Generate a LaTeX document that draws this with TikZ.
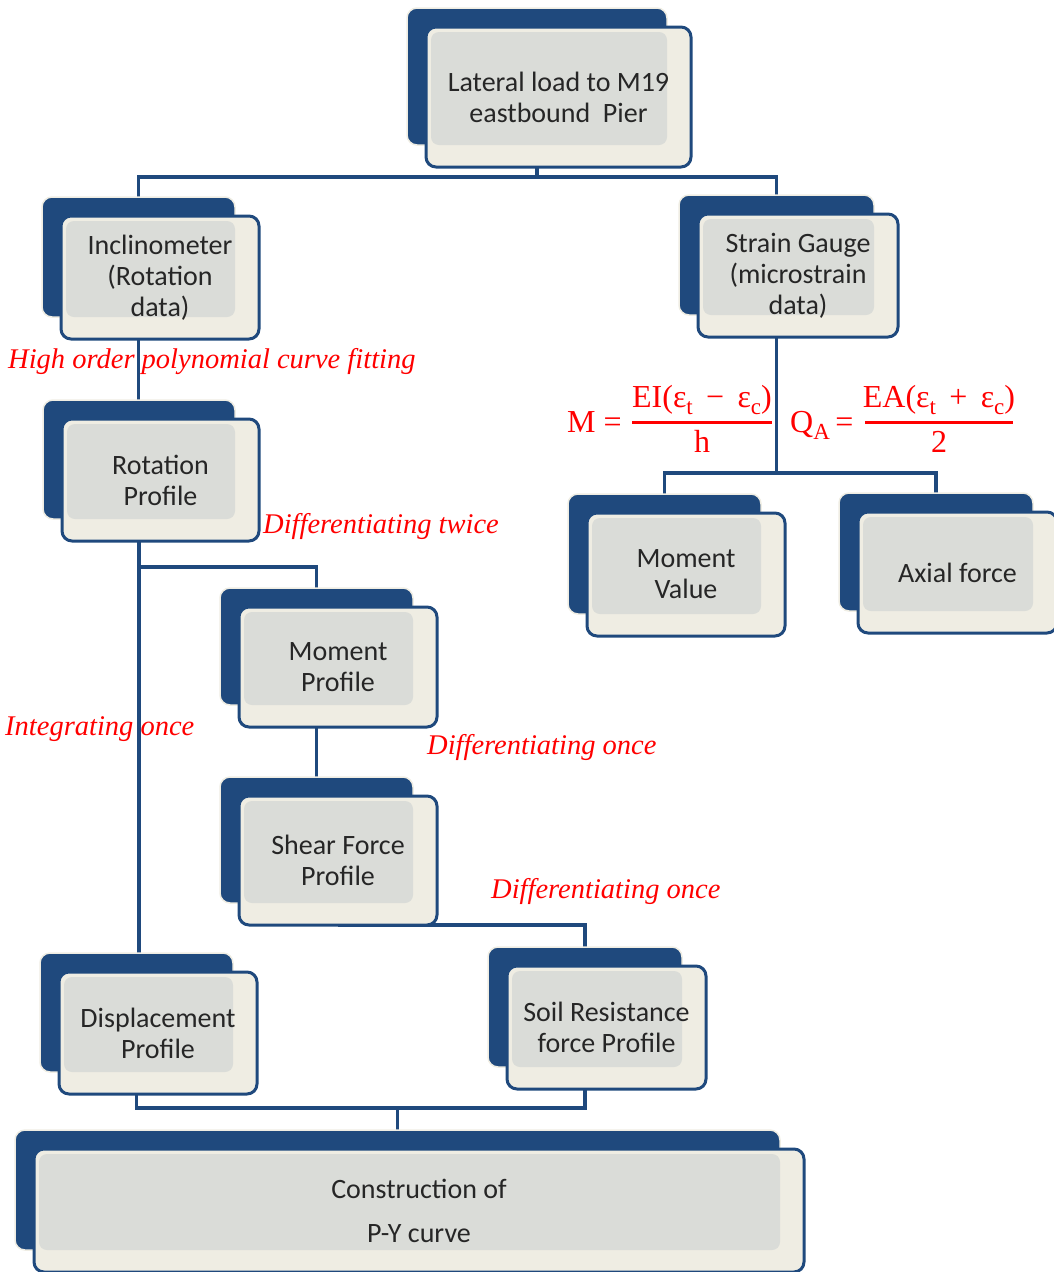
\documentclass[tikz,border=0pt]{standalone}
\usepackage{fontspec}
\setmainfont{Liberation Serif}
\newfontfamily\boxfont{Carlito}
\usetikzlibrary{calc}
\definecolor{dblue}{HTML}{1F497D}
\definecolor{cream}{HTML}{EFEDE3}
\definecolor{lgray}{HTML}{DADCD8}
\definecolor{txt}{HTML}{262626}
\pgfdeclarelayer{bg}
\pgfsetlayers{bg,main}
\tikzset{
  backbox/.style={fill=dblue, draw=cream, line width=1.5pt, rounded corners=10pt, inner sep=0pt, outer sep=0pt},
  frontbox/.style={fill=cream, draw=dblue, line width=3pt, rounded corners=10pt, inner sep=0pt, outer sep=0pt},
  graybox/.style={fill=lgray, rounded corners=8pt, inner sep=0pt, outer sep=0pt},
  boxtext/.style={font=\boxfont\fontsize{28}{31}\selectfont, text=txt, align=center, inner sep=0pt},
  conn/.style={draw=dblue, line width=3.5pt},
  redlabel/.style={font=\itshape\fontsize{28.5}{32}\selectfont, text=red, inner sep=0pt, anchor=base west},
  fml/.style={font=\fontsize{32}{36}\selectfont, text=red, inner sep=0pt},
  fracbar/.style={draw=red, line width=3pt},
}
\newcommand\lowsub[1]{\raisebox{-0.22em}{\fontsize{23}{23}\selectfont #1}}
\newcommand\flowbox[6]{%
  \pgfmathsetmacro\bw{#4-#2}%
  \pgfmathsetmacro\bh{#5-#3}%
  \pgfmathsetmacro\fw{#4-#2+5}%
  \pgfmathsetmacro\fh{#5-#3+3}%
  \pgfmathsetmacro\gw{#4-#2-24}%
  \pgfmathsetmacro\gh{#5-#3-24}%
  \node[backbox, minimum width=\bw pt, minimum height=\bh pt, anchor=north west] (#1-b) at (#2,#3) {};
  \node[frontbox, minimum width=\fw pt, minimum height=\fh pt, anchor=north west] (#1) at (#2+19,#3+19) {};
  \node[graybox, minimum width=\gw pt, minimum height=\gh pt, anchor=north west] (#1-g) at (#2+24,#3+24) {};
  \node[boxtext] (#1-t) at (#1.center) {#6};
}
\begin{document}
\begin{tikzpicture}[x=1pt, y=-1pt]
\useasboundingbox (0,0) rectangle (1054,1272);

\flowbox{top}{407}{8}{667}{145}{Lateral load to M19\\ eastbound\ \ Pier}
\flowbox{incl}{42}{197}{235}{317}{Inclinometer\\(Rotation\\data)}
\flowbox{strain}{679}{195}{874}{315}{Strain Gauge\\(microstrain\\data)}
\flowbox{rot}{43}{400}{235}{519}{Rotation\\Profile}
\flowbox{mval}{568}{494}{761}{614}{Moment\\Value}
\flowbox{axial}{839}{493}{1033}{611}{Axial force}
\flowbox{mprof}{220}{588}{413}{705}{Moment\\Profile}
\flowbox{shear}{220}{777}{413}{903}{Shear Force\\Profile}
\flowbox{disp}{40}{953}{233}{1072}{Displacement\\Profile}
\flowbox{soil}{488}{947}{682}{1067}{Soil Resistance\\force Profile}
\flowbox{constr}{15}{1130}{780}{1250}{Construction of\\[13pt]P-Y curve}

\coordinate (ya) at (0,177);
\coordinate (yb) at (0,473);
\coordinate (yc) at (0,567);
\coordinate (yd) at (0,1108);

\begin{pgfonlayer}{bg}
\draw[conn] (top-b.south) -- (top-b.south |- ya) -| (incl-b.north);
\draw[conn] (top-b.south |- ya) -| (strain-b.north);
\draw[conn] (incl-b.south) -- (incl-b.south |- rot-b.north);
\draw[conn] (strain-b.south) -- (strain-b.south |- yb) -| (mval-b.north);
\draw[conn] (strain-b.south |- yb) -| (axial-b.north);
\draw[conn] (rot-b.south) -- (rot-b.south |- disp-b.north);
\draw[conn] (rot-b.south |- yc) -| (mprof-b.north);
\draw[conn] (mprof-b.south) -- (mprof-b.south |- shear-b.north);
\draw[conn] (shear.south) -| (soil-b.north);
\draw[conn] (disp-b.south) -- (disp-b.south |- yd) -| (soil-b.south);
\draw[conn] (constr-b.north |- yd) -- (constr-b.north);
\end{pgfonlayer}

\node[redlabel] (lhof) at (8,368) {High order polynomial curve fitting};
\node[redlabel] (ldtw) at (263,533) {Differentiating twice};
\node[redlabel] (lio) at (5,735) {Integrating once};
\node[redlabel] (ldo1) at (427,754) {Differentiating once};
\node[redlabel] (ldo2) at (491,898) {Differentiating once};

% formula M
\node[fml, anchor=base west] (fM) at (567,432) {M =};
\node[fml, anchor=base] (fMn) at (702,407) {EI(ε\lowsub{t}\, − \,ε\lowsub{c})};
\node[fml, anchor=base] (fMd) at (702,452) {h};
\draw[fracbar] (632,422) -- (772,422);
% formula QA
\node[fml, anchor=base west] (fQ) at (790,432) {Q\lowsub{A}\,=};
\node[fml, anchor=base] (fQn) at (939,407) {EA(ε\lowsub{t}\, + \,ε\lowsub{c})};
\node[fml, anchor=base] (fQd) at (939,452) {2};
\draw[fracbar] (865,422) -- (1013,422);
\end{tikzpicture}
\end{document}
